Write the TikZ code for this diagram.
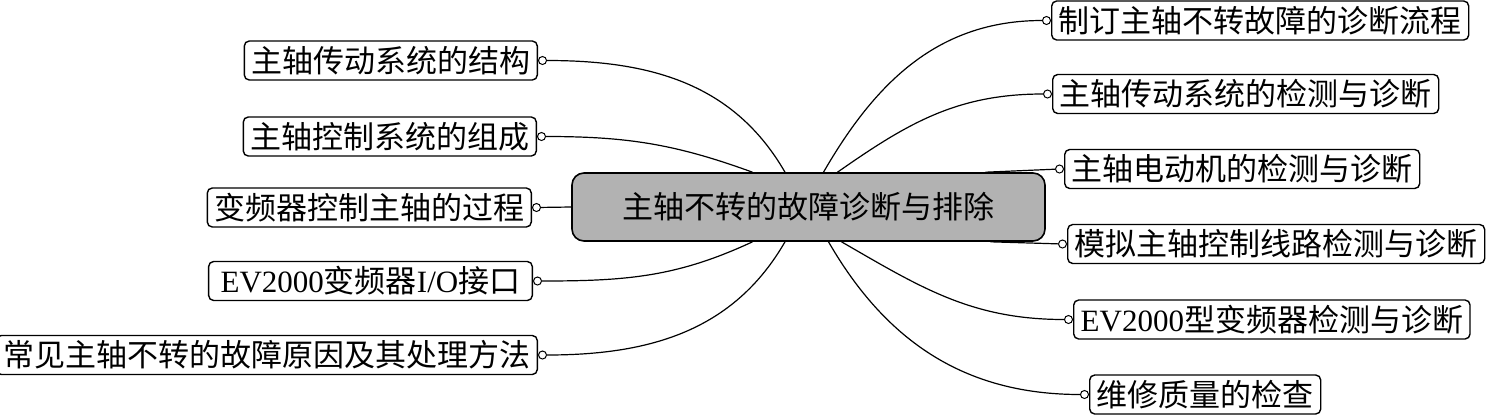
\documentclass[tikz,border=0pt]{standalone}
\usepackage{fontspec}
\setmainfont{Liberation Serif}
\newfontfamily\cjk{Noto Sans CJK SC}
\newcommand\lattxt[1]{{\rmfamily #1}}
\usetikzlibrary{positioning}

\begin{document}
\begin{tikzpicture}[x=1pt, y=1pt, font=\cjk\fontsize{31}{35}\selectfont,
topic/.style={draw, rounded corners=5pt, line width=1.4pt, minimum height=39pt, inner xsep=7pt, inner ysep=2pt},
hub/.style={draw, rounded corners=12pt, line width=1.6pt, fill=black!30, minimum width=473pt, minimum height=68pt},
dot/.style={circle, draw, line width=1pt, fill=white, inner sep=0pt, minimum size=8pt},
link/.style={line width=1.2pt}]
  \useasboundingbox (0,0) rectangle (1489,-416);
  \node[hub] (HUB) at (808.5,-207) {主轴不转的故障诊断与排除};
  % left side
  \node[topic, anchor=east] (L1) at (538,-60.5) {主轴传动系统的结构};
  \node[topic, anchor=east] (L2) at (537,-136.5) {主轴控制系统的组成};
  \node[topic, anchor=east] (L3) at (532,-207.5) {变频器控制主轴的过程};
  \node[topic, anchor=east, inner xsep=12pt] (L4) at (533,-281) {\lattxt{EV2000}变频器\lattxt{I/O}接口};
  \node[topic, anchor=east] (L5) at (538,-355) {常见主轴不转的故障原因及其处理方法};
  % right side
  \node[topic, anchor=west] (R1) at (1051,-20.5) {制订主轴不转故障的诊断流程};
  \node[topic, anchor=west] (R2) at (1052,-94) {主轴传动系统的检测与诊断};
  \node[topic, anchor=west] (R3) at (1064,-169) {主轴电动机的检测与诊断};
  \node[topic, anchor=west] (R4) at (1067,-244) {模拟主轴控制线路检测与诊断};
  \node[topic, anchor=west] (R5) at (1073,-319.5) {\lattxt{EV2000}型变频器检测与诊断};
  \node[topic, anchor=west] (R6) at (1089,-394.5) {维修质量的检查};
  % joints
  \foreach \n in {L1,L2,L3,L4,L5}
    \node[dot, right=0pt of \n] (\n d) {};
  \foreach \n in {R1,R2,R3,R4,R5,R6}
    \node[dot, left=0pt of \n] (\n d) {};
  \draw[link] (L1d) to[out=0, in=120] ([xshift=-23.5pt]HUB.north);
  \draw[link] (L2d) to[out=0, in=160] ([xshift=-56pt]HUB.north);
  \draw[link] (L3d) -- (HUB.west);
  \draw[link] (L4d) to[out=0, in=205] ([xshift=-56pt]HUB.south);
  \draw[link] (L5d) to[out=0, in=240] ([xshift=-23.5pt]HUB.south);
  \draw[link] (R1d) to[out=180, in=60] ([xshift=15pt]HUB.north);
  \draw[link] (R2d) to[out=180, in=35] ([xshift=29pt]HUB.north);
  \draw[link] (R3d) -- ([xshift=177pt]HUB.north);
  \draw[link] (R4d) -- ([xshift=182pt]HUB.south);
  \draw[link] (R5d) to[out=180, in=-30] ([xshift=33pt]HUB.south);
  \draw[link] (R6d) to[out=180, in=-60] ([xshift=20pt]HUB.south);
\end{tikzpicture}
\end{document}
